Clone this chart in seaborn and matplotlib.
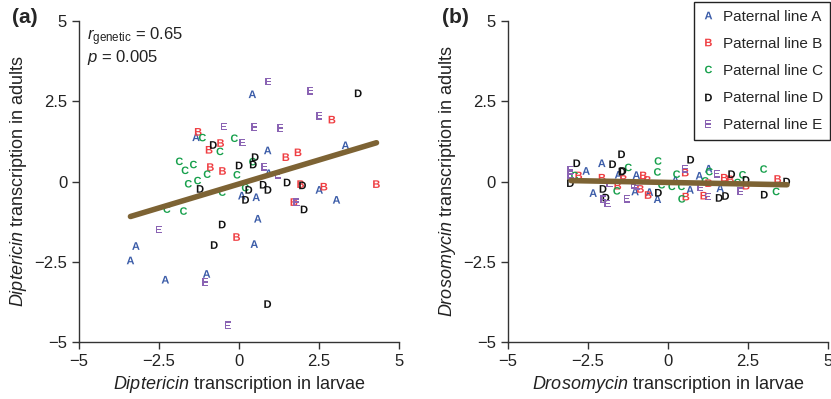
import numpy as np
import pandas as pd
import matplotlib
matplotlib.use("Agg")
import matplotlib.pyplot as plt
import seaborn as sns

# Panel (a): Diptericin, per paternal line
dip_line = (["A"] * 15 + ["B"] * 13 + ["C"] * 15 + ["D"] * 16 + ["E"] * 13)
dip_larvae = [0.42, -1.34, 0.90, 3.33, 0.93, 2.51, 0.09, 0.54, 3.05, 0.59, -3.22, 0.48, -3.39, -1.01, -2.30,
              2.91, -1.27, -0.57, -0.93, 1.47, 1.85, -0.89, -0.51, 1.93, 2.66, 4.30, 1.72, -0.07,
              -1.14, -0.14, -0.59, -1.86, -1.42, -1.68, -0.99, -0.06, -1.58, -1.29, -0.52, 0.20, -2.25, -1.73, 0.43,
              3.73, -0.80, 0.51, 0.01, 0.45, -1.21, 1.51, 1.99, 0.31, 0.76, 0.91, 0.21, 2.04, -0.52, -0.77, 0.90,
              0.92, 2.23, 2.51, -0.47, 0.48, 1.29, 0.11, 0.79, 1.22, 1.80, -2.50, -1.05, -0.35]
dip_adults = [2.72, 1.38, 0.97, 1.13, 0.26, -0.26, -0.44, -0.49, -0.57, -1.16, -2.01, -1.95, -2.46, -2.88, -3.06,
              1.93, 1.55, 1.20, 0.99, 0.76, 0.91, 0.45, 0.33, -0.08, -0.16, -0.08, -0.64, -1.73,
              1.37, 1.35, 0.94, 0.63, 0.53, 0.35, 0.23, 0.21, -0.07, 0.03, -0.33, -0.19, -0.86, -0.92, 0.62,
              2.75, 1.14, 0.76, 0.50, 0.53, -0.23, -0.03, -0.12, -0.26, -0.10, -0.26, -0.57, -0.87, -1.34, -1.98, -3.82,
              3.12, 2.83, 2.05, 1.71, 1.70, 1.67, 1.22, 0.46, 0.21, -0.64, -1.50, -3.13, -4.48]
dip_fit_x = [-3.39, 4.30]
dip_fit_y = [-1.09, 1.21]

# Panel (b): Drosomycin, per paternal line
dro_line = (["A"] * 13 + ["B"] * 16 + ["C"] * 16 + ["D"] * 16 + ["E"] * 13)
dro_larvae = [-2.06, -2.55, -1.54, -2.33, -0.98, -1.02, -0.57, -0.32, 0.24, 0.70, 0.99, 1.28, 1.64,
              -2.78, -2.05, -1.38, -1.56, -0.76, -0.63, -0.85, -0.61, 0.55, 0.57, 1.28, 1.13, 1.77, 1.96, 2.45, 3.44,
              -2.91, -1.23, -1.59, -0.30, -0.32, -0.19, 0.13, 0.43, 0.28, 0.44, 1.30, 1.17, 2.18, 2.34, 3.00, 3.39,
              -2.84, -1.72, -1.44, -1.43, -1.40, -3.04, -2.02, -1.93, -0.29, 0.72, 1.61, 1.81, 2.00, 2.45, 3.02, 3.72,
              -3.04, -3.04, -1.82, -2.02, -1.88, -1.28, -1.06, -0.97, 0.54, 1.53, 1.01, 1.25, 2.27]
dro_adults = [0.57, 0.33, 0.21, -0.36, 0.20, -0.31, -0.33, -0.55, 0.05, -0.26, 0.18, 0.40, -0.21,
              0.19, 0.12, 0.08, -0.13, 0.19, 0.05, -0.23, -0.42, 0.28, -0.47, -0.05, -0.44, 0.12, 0.07, -0.13, 0.08,
              0.19, 0.44, -0.29, 0.64, 0.30, -0.10, -0.15, -0.15, 0.23, -0.54, 0.31, 0.02, -0.03, 0.21, 0.39, -0.31,
              0.57, 0.54, 0.85, 0.31, 0.33, -0.05, -0.23, -0.50, -0.35, 0.68, -0.51, -0.45, 0.23, 0.05, -0.41, 0.00,
              0.36, 0.21, -0.05, -0.55, -0.69, -0.54, -0.10, -0.13, 0.40, 0.24, -0.18, -0.47, -0.30]
dro_fit_x = [-3.02, 3.73]
dro_fit_y = [0.03, -0.10]

letters = ["A", "B", "C", "D", "E"]
colors = ["#3b5ca8", "#ef3e42", "#17a04c", "#111111", "#8a63b3"]
line_color = "#7d6334"

sns.set_theme(style="ticks")
plt.rcParams["font.family"] = ["Liberation Sans", "DejaVu Sans"]
plt.rcParams["mathtext.fontset"] = "custom"
plt.rcParams["mathtext.rm"] = "Liberation Sans"
plt.rcParams["mathtext.it"] = "Liberation Sans:italic"
plt.rcParams["mathtext.sf"] = "Liberation Sans:bold"

labels = ["Paternal line " + l for l in letters]
palette = dict(zip(labels, colors))
markers = {"Paternal line " + l: r"$\mathsf{" + l + "}$" for l in letters}

dip = pd.DataFrame({"line": ["Paternal line " + l for l in dip_line],
                    "larvae": dip_larvae, "adults": dip_adults})
dro = pd.DataFrame({"line": ["Paternal line " + l for l in dro_line],
                    "larvae": dro_larvae, "adults": dro_adults})

fig = plt.figure(figsize=(8.31, 3.99), dpi=100)
ax1 = fig.add_axes([0.095, 0.143, 0.385, 0.804])
ax2 = fig.add_axes([0.611, 0.143, 0.385, 0.804])

for ax, df, fx, fy, gene, show_leg in [(ax1, dip, dip_fit_x, dip_fit_y, "Diptericin", False),
                                       (ax2, dro, dro_fit_x, dro_fit_y, "Drosomycin", True)]:
    sns.lineplot(x=fx, y=fy, ax=ax, color=line_color, linewidth=4, zorder=3)
    sns.scatterplot(data=df, x="larvae", y="adults", hue="line", style="line",
                    hue_order=labels, style_order=labels, palette=palette,
                    markers=markers, s=30, linewidth=0, ax=ax, legend=show_leg, zorder=2)
    ax.set_xlim(-5, 5)
    ax.set_ylim(-5, 5)
    ax.set_xticks([-5, -2.5, 0, 2.5, 5])
    ax.set_yticks([-5, -2.5, 0, 2.5, 5])
    ax.set_xticklabels(["\u22125", "\u22122.5", "0", "2.5", "5"])
    ax.set_yticklabels(["\u22125", "\u22122.5", "0", "2.5", "5"])
    ax.tick_params(labelsize=12, length=5, width=1, color="#333333", labelcolor="#222222")
    ax.set_xlabel(r"$\mathit{" + gene + "}$ transcription in larvae", fontsize=13, color="#222222")
    ax.set_ylabel(r"$\mathit{" + gene + "}$ transcription in adults", fontsize=13, color="#222222")
    ax.patch.set_visible(False)
    sns.despine(ax=ax)
    for sp in ["left", "bottom"]:
        ax.spines[sp].set_color("#333333")
        ax.spines[sp].set_linewidth(1)

ax1.text(-4.75, 4.5, r"$r_{\mathrm{genetic}}$ = 0.65", fontsize=12, va="center", color="#222222")
ax1.text(-4.75, 3.88, r"$p$ = 0.005", fontsize=12, va="center", color="#222222")

leg = ax2.legend(loc="upper left", bbox_to_anchor=(0.583, 1.06), fontsize=11, frameon=True,
                 fancybox=False, edgecolor="#222222", framealpha=1, markerscale=1.0,
                 handlelength=0.8, handletextpad=0.55, labelspacing=0.86, borderpad=0.5,
                 borderaxespad=0)
leg.get_frame().set_linewidth(1)

fig.text(0.015, 0.955, "(a)", fontsize=15, fontweight="bold", va="center")
fig.text(0.532, 0.955, "(b)", fontsize=15, fontweight="bold", va="center")

fig.savefig("out.png", dpi=100)
